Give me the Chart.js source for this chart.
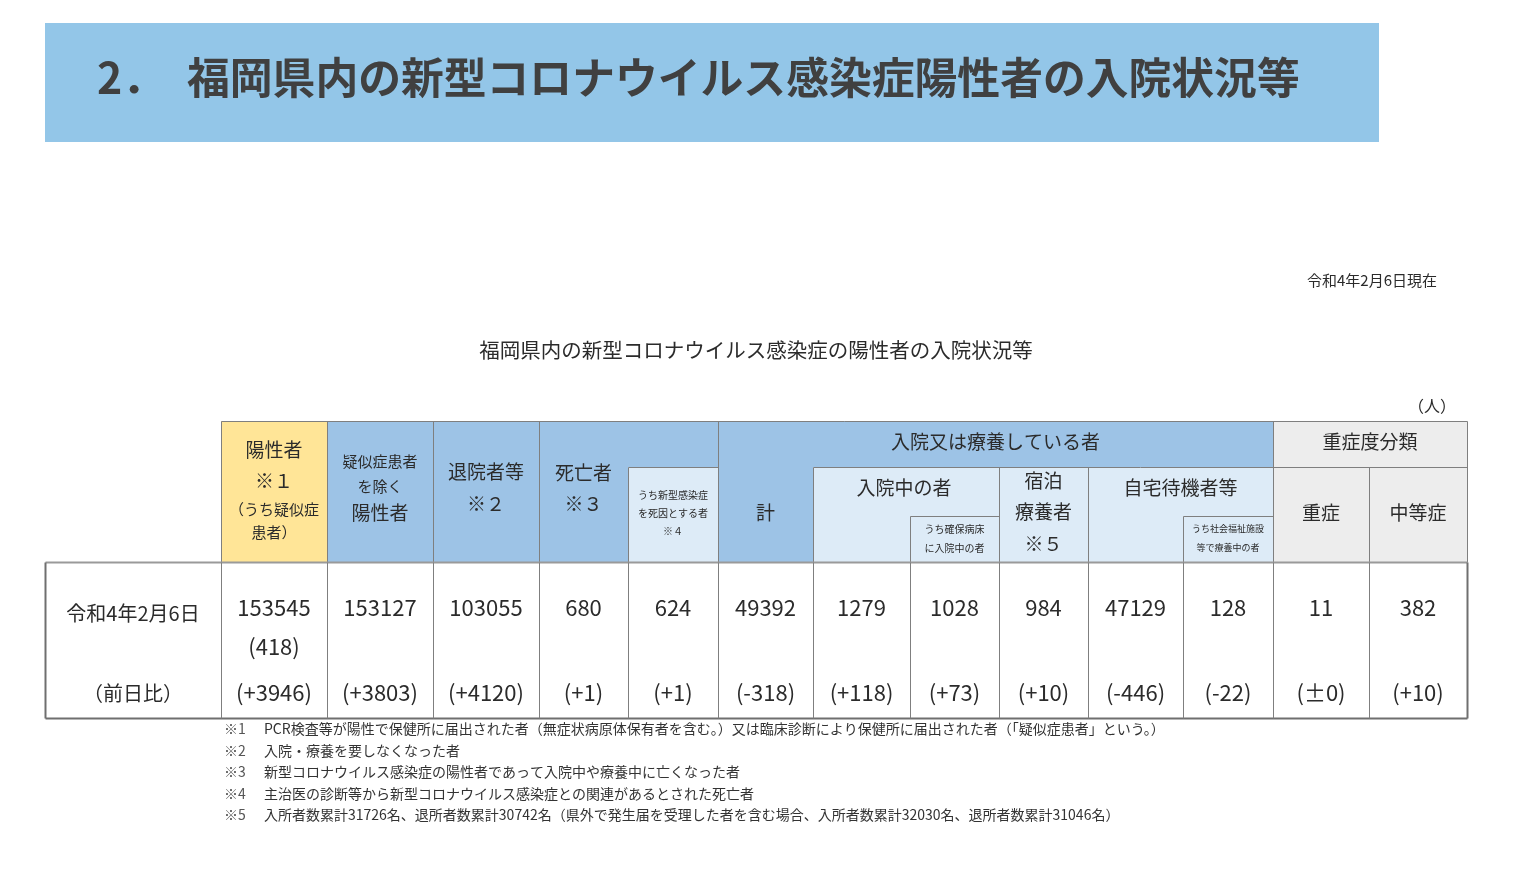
<!DOCTYPE html>
<html lang="ja">
<head>
<meta charset="utf-8">
<title>福岡県内の新型コロナウイルス感染症陽性者の入院状況等</title>
<script src="https://cdn.jsdelivr.net/npm/chart.js@4.4.1/dist/chart.umd.min.js"></script>
<style>
  html, body { margin: 0; padding: 0; background: #fff; }
  #tableChart { display: block; }
</style>
</head>
<body>
<canvas id="tableChart" width="1536" height="893"></canvas>
<script>
// 福岡県 入院状況等 table, drawn on a Chart.js canvas via a plugin

const PAGE_TITLE = '福岡県内の新型コロナウイルス感染症陽性者の入院状況等';
const TABLE_TITLE = '福岡県内の新型コロナウイルス感染症の陽性者の入院状況等';
const AS_OF = '令和4年2月6日現在';
const UNIT = '（人）';
const ROW_DATE = '令和4年2月6日';
const ROW_DIFF = '（前日比）';

// one entry per data column, left to right
const VALUES = [153545, 153127, 103055, 680, 624, 49392, 1279, 1028, 984, 47129, 128, 11, 382];
const DIFFS = ['+3946', '+3803', '+4120', '+1', '+1', '-318', '+118', '+73', '+10', '-446', '-22', '±0', '+10'];
const SUSPECTED = 418; // (うち疑似症患者)

const NOTES = [
  ['※1', 'PCR検査等が陽性で保健所に届出された者（無症状病原体保有者を含む。）又は臨床診断により保健所に届出された者（「疑似症患者」という。）'],
  ['※2', '入院・療養を要しなくなった者'],
  ['※3', '新型コロナウイルス感染症の陽性者であって入院中や療養中に亡くなった者'],
  ['※4', '主治医の診断等から新型コロナウイルス感染症との関連があるとされた死亡者'],
  ['※5', '入所者数累計31726名、退所者数累計30742名（県外で発生届を受理した者を含む場合、入所者数累計32030名、退所者数累計31046名）']
];

// layout
const COL_X = [221, 327, 433, 539, 628, 718, 813, 910, 999, 1088, 1183, 1273, 1369, 1467];
const TBL_LEFT = 45;
const Y_TOP = 421, Y_MID = 467, Y_SUB = 516, Y_HEAD = 562, Y_BOT = 718;

const C_YELLOW = '#ffe597';
const C_BLUE = '#9dc3e6';
const C_LIGHT = '#ddebf7';
const C_GREY = '#ededed';
const C_LINE = '#7f7f7f';
const C_TEXT = '#2b2b2b';
const JP = '"Noto Sans CJK JP", "Noto Sans", sans-serif';

function txt(ctx, s, x, y, size, opt) {
  opt = opt || {};
  ctx.save();
  ctx.fillStyle = opt.color || C_TEXT;
  ctx.font = (opt.bold ? 'bold ' : '') + size + 'px ' + JP;
  ctx.textAlign = opt.align || 'center';
  ctx.textBaseline = 'middle';
  ctx.fillText(s, x, y);
  ctx.restore();
}

function box(ctx, x0, y0, x1, y1, fill) {
  ctx.fillStyle = fill;
  ctx.fillRect(x0, y0, x1 - x0, y1 - y0);
}

function line(ctx, x0, y0, x1, y1, color, w) {
  ctx.save();
  ctx.strokeStyle = color || C_LINE;
  ctx.lineWidth = w || 1;
  ctx.beginPath();
  ctx.moveTo(x0 + 0.5, y0 + 0.5);
  ctx.lineTo(x1 + 0.5, y1 + 0.5);
  ctx.stroke();
  ctx.restore();
}

function cx(i, j) { return (COL_X[i] + COL_X[j === undefined ? i + 1 : j]) / 2; }

const tablePlugin = {
  id: 'tableDraw',
  afterDraw(chart) {
    const ctx = chart.ctx;

    // banner
    box(ctx, 45, 23, 1379, 142, '#93c6e8');
    txt(ctx, '2．', 97, 78, 42.8, { bold: true, align: 'left', color: '#404040' });
    txt(ctx, PAGE_TITLE, 187, 78, 42.8, { bold: true, align: 'left', color: '#404040' });

    txt(ctx, AS_OF, 1437, 280, 15, { align: 'right' });
    txt(ctx, TABLE_TITLE, 756, 350, 20.5);
    txt(ctx, UNIT, 1456, 406, 16, { align: 'right' });

    // header fills
    box(ctx, COL_X[0], Y_TOP, COL_X[1], Y_HEAD, C_YELLOW);
    box(ctx, COL_X[1], Y_TOP, COL_X[11], Y_HEAD, C_BLUE);
    box(ctx, COL_X[4], Y_MID, COL_X[5], Y_HEAD, C_LIGHT);
    box(ctx, COL_X[6], Y_MID, COL_X[11], Y_HEAD, C_LIGHT);
    box(ctx, COL_X[11], Y_TOP, COL_X[13], Y_HEAD, C_GREY);

    // header lines
    line(ctx, COL_X[0], Y_TOP, COL_X[13], Y_TOP);
    [0, 1, 2, 3, 5, 11, 13].forEach(i => line(ctx, COL_X[i], Y_TOP, COL_X[i], Y_HEAD));
    [4, 6, 8, 9, 12].forEach(i => line(ctx, COL_X[i], Y_MID, COL_X[i], Y_HEAD));
    line(ctx, COL_X[4], Y_MID, COL_X[5], Y_MID);
    line(ctx, COL_X[6], Y_MID, COL_X[13], Y_MID);
    line(ctx, COL_X[7], Y_SUB, COL_X[8], Y_SUB);
    line(ctx, COL_X[7], Y_SUB, COL_X[7], Y_HEAD);
    line(ctx, COL_X[10], Y_SUB, COL_X[11], Y_SUB);
    line(ctx, COL_X[10], Y_SUB, COL_X[10], Y_HEAD);

    // header text
    txt(ctx, '陽性者', cx(0), 450, 19);
    txt(ctx, '※１', cx(0), 481, 19);
    txt(ctx, '（うち疑似症', cx(0), 509, 15);
    txt(ctx, '患者）', cx(0), 532, 15);

    txt(ctx, '疑似症患者', cx(1), 461, 15);
    txt(ctx, 'を除く', cx(1), 486, 15);
    txt(ctx, '陽性者', cx(1), 513, 19);

    txt(ctx, '退院者等', cx(2), 472, 19);
    txt(ctx, '※２', cx(2), 504, 19);

    txt(ctx, '死亡者', cx(3), 473, 19);
    txt(ctx, '※３', cx(3), 504, 19);
    txt(ctx, 'うち新型感染症', cx(4), 495, 10);
    txt(ctx, 'を死因とする者', cx(4), 513, 10);
    txt(ctx, '※４', cx(4), 531, 10);

    txt(ctx, '入院又は療養している者', cx(5, 11), 442, 19);
    txt(ctx, '計', cx(5), 513, 19);
    txt(ctx, '入院中の者', cx(6, 8) - 2, 488, 19);
    txt(ctx, 'うち確保病床', cx(7), 529, 10);
    txt(ctx, 'に入院中の者', cx(7), 548, 10);
    txt(ctx, '宿泊', cx(8), 481, 19);
    txt(ctx, '療養者', cx(8), 512, 19);
    txt(ctx, '※５', cx(8), 544, 19);
    txt(ctx, '自宅待機者等', cx(9, 11), 488, 19);
    txt(ctx, 'うち社会福祉施設', cx(10), 529, 9);
    txt(ctx, '等で療養中の者', cx(10), 548, 9);

    txt(ctx, '重症度分類', cx(11, 13), 442, 19);
    txt(ctx, '重症', cx(11), 513, 19);
    txt(ctx, '中等症', cx(12), 513, 19);

    // body
    line(ctx, TBL_LEFT, Y_HEAD, COL_X[13], Y_HEAD, '#9a9a9a', 2);
    line(ctx, TBL_LEFT, Y_BOT, COL_X[13], Y_BOT, '#6f6f6f', 2);
    line(ctx, TBL_LEFT, Y_HEAD, TBL_LEFT, Y_BOT, '#6f6f6f', 2);
    COL_X.forEach((x, i) => line(ctx, x, Y_HEAD, x, Y_BOT, i === 13 ? '#6f6f6f' : C_LINE, i === 13 ? 2 : 1));

    txt(ctx, ROW_DATE, (TBL_LEFT + COL_X[0]) / 2, 613, 20);
    txt(ctx, ROW_DIFF, (TBL_LEFT + COL_X[0]) / 2, 693, 20);
    VALUES.forEach((v, i) => {
      txt(ctx, String(v), cx(i), 608, 22);
      txt(ctx, '(' + DIFFS[i] + ')', cx(i), 693, 22);
    });
    txt(ctx, '(' + SUSPECTED + ')', cx(0), 647, 22);

    // footnotes
    NOTES.forEach((n, i) => {
      const y = 729 + i * 21.5;
      txt(ctx, n[0], 224, y, 14, { align: 'left', color: '#555' });
      txt(ctx, n[1], 264, y, 14, { align: 'left', color: '#333' });
    });
  }
};

new Chart(document.getElementById('tableChart'), {
  type: 'bar',
  data: { labels: [], datasets: [] },
  options: {
    responsive: false,
    animation: false,
    events: [],
    plugins: { legend: { display: false }, tooltip: { enabled: false } },
    scales: { x: { display: false }, y: { display: false } }
  },
  plugins: [tablePlugin]
});
</script>
</body>
</html>
